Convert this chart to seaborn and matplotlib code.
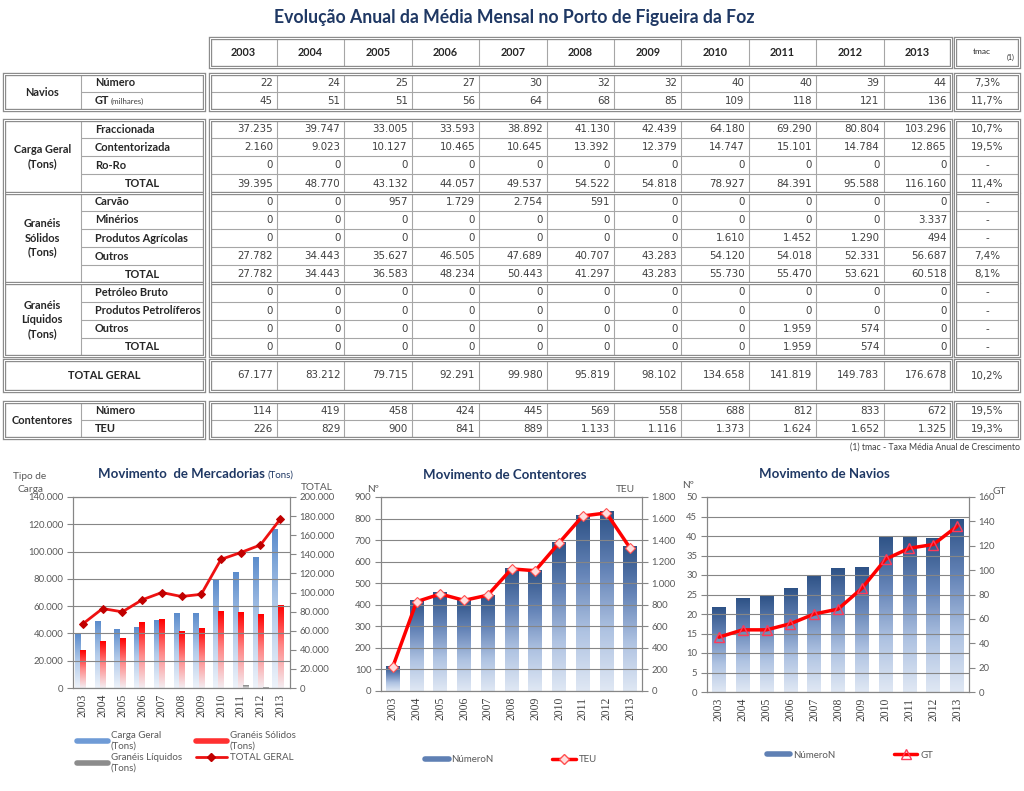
import numpy as np
import pandas as pd
import matplotlib
matplotlib.use("Agg")
import matplotlib.pyplot as plt
import seaborn as sns
from matplotlib.colors import LinearSegmentedColormap
from matplotlib.lines import Line2D
from matplotlib.patches import Rectangle
from matplotlib.ticker import FuncFormatter, MultipleLocator

# ---- data ----
years = ["2003", "2004", "2005", "2006", "2007", "2008", "2009", "2010", "2011", "2012", "2013"]

navios_numero = [22, 24, 25, 27, 30, 32, 32, 40, 40, 39, 44]
navios_gt = [45, 51, 51, 56, 64, 68, 85, 109, 118, 121, 136]
navios_tmac = ["7,3%", "11,7%"]
# bar heights in the ships chart (unrounded monthly means)
navios_numero_chart = [21.6, 24.0, 24.4, 26.6, 29.9, 31.6, 31.9, 39.9, 39.9, 39.3, 44.2]

cg_fraccionada = [37235, 39747, 33005, 33593, 38892, 41130, 42439, 64180, 69290, 80804, 103296]
cg_contentorizada = [2160, 9023, 10127, 10465, 10645, 13392, 12379, 14747, 15101, 14784, 12865]
cg_roro = [0, 0, 0, 0, 0, 0, 0, 0, 0, 0, 0]
cg_total = [39395, 48770, 43132, 44057, 49537, 54522, 54818, 78927, 84391, 95588, 116160]
cg_tmac = ["10,7%", "19,5%", "-", "11,4%"]

gs_carvao = [0, 0, 957, 1729, 2754, 591, 0, 0, 0, 0, 0]
gs_minerios = [0, 0, 0, 0, 0, 0, 0, 0, 0, 0, 3337]
gs_agricolas = [0, 0, 0, 0, 0, 0, 0, 1610, 1452, 1290, 494]
gs_outros = [27782, 34443, 35627, 46505, 47689, 40707, 43283, 54120, 54018, 52331, 56687]
gs_total = [27782, 34443, 36583, 48234, 50443, 41297, 43283, 55730, 55470, 53621, 60518]
gs_tmac = ["-", "-", "-", "7,4%", "8,1%"]

gl_bruto = [0, 0, 0, 0, 0, 0, 0, 0, 0, 0, 0]
gl_petroliferos = [0, 0, 0, 0, 0, 0, 0, 0, 0, 0, 0]
gl_outros = [0, 0, 0, 0, 0, 0, 0, 0, 1959, 574, 0]
gl_total = [0, 0, 0, 0, 0, 0, 0, 0, 1959, 574, 0]
gl_tmac = ["-", "-", "-", "-"]

total_geral = [67177, 83212, 79715, 92291, 99980, 95819, 98102, 134658, 141819, 149783, 176678]
total_geral_tmac = "10,2%"

cont_numero = [114, 419, 458, 424, 445, 569, 558, 688, 812, 833, 672]
cont_teu = [226, 829, 900, 841, 889, 1133, 1116, 1373, 1624, 1652, 1325]
cont_tmac = ["19,5%", "19,3%"]

# ---- style ----
sns.set_style("white")
plt.rcParams["font.family"] = ["Lato", "DejaVu Sans"]

NAVY = "#1f3864"
GRID = "#868686"
TICK = "#595959"
BORDER = "#8c8c8c"
INNER = "#a6a6a6"
LABEL_FS = 7.9


def fmt_pt(v):
    return f"{int(round(v)):,}".replace(",", ".")


fig = plt.figure(figsize=(10.24, 7.91), dpi=100)
bg = fig.add_axes([0, 0, 1, 1])
bg.set_xlim(0, 1024)
bg.set_ylim(791, 0)
bg.axis("off")

fig.text(514 / 1024, 1 - 17 / 791, "Evolução Anual da Média Mensal no Porto de Figueira da Foz",
         ha="center", va="center", fontsize=12.7, fontweight="bold", color=NAVY)

# ---- table ----
X_LAB0, X_LAB1, X_LAB2 = 3.5, 81, 204
X_NUM0, X_NUM1 = 209.5, 951
X_TM0, X_TM1 = 955, 1019
col_edges = np.linspace(X_NUM0, X_NUM1, len(years) + 1)


def double_box(x0, y0, x1, y1):
    bg.add_patch(Rectangle((x0, y0), x1 - x0, y1 - y0, fill=False, ec=BORDER, lw=2.4, zorder=3))
    bg.add_patch(Rectangle((x0, y0), x1 - x0, y1 - y0, fill=False, ec="white", lw=0.7, zorder=3))


def hline(x0, x1, y, double=False):
    if double:
        bg.plot([x0, x1], [y, y], color=BORDER, lw=2.4, zorder=2)
        bg.plot([x0, x1], [y, y], color="white", lw=0.7, zorder=2)
    else:
        bg.plot([x0, x1], [y, y], color=INNER, lw=0.8, zorder=1)


def vline(x, y0, y1):
    bg.plot([x, x], [y0, y1], color=INNER, lw=0.8, zorder=1)


def num_row(vals, tmac, yc):
    for k, v in enumerate(vals):
        bg.text(col_edges[k + 1] - 4, yc, fmt_pt(v), ha="right", va="center",
                fontsize=7.4, color="#404040", family="DejaVu Sans")
    bg.text((X_TM0 + X_TM1) / 2, yc, tmac, ha="center", va="center",
            fontsize=7.4, color="#404040", family="DejaVu Sans")


# header
double_box(X_NUM0, 38, X_NUM1, 67)
double_box(X_TM0, 38, X_TM1, 67)
for k, yr in enumerate(years):
    if k:
        vline(col_edges[k], 38, 67)
    bg.text((col_edges[k] + col_edges[k + 1]) / 2, 52.5, yr, ha="center", va="center",
            fontsize=7.8, fontweight="bold", color="#262626")
bg.text(982, 51, "tmac", ha="center", va="center", fontsize=6, color="#262626")
bg.text(1011, 57, "(1)", ha="center", va="center", fontsize=5, color="#262626")


def block(y0, y1, groups, split_label=True):
    """groups: list of (group label, rows); rows: (label, values, tmac, is_total)"""
    double_box(X_LAB0, y0, X_LAB2, y1)
    double_box(X_NUM0, y0, X_NUM1, y1)
    double_box(X_TM0, y0, X_TM1, y1)
    for k in range(1, len(years)):
        vline(col_edges[k], y0, y1)
    nrows = sum(len(g[1]) for g in groups)
    rh = (y1 - y0) / nrows
    if split_label:
        vline(X_LAB1, y0, y1)
    r = 0
    for gi, (glabel, rows) in enumerate(groups):
        gy0 = y0 + r * rh
        gy1 = gy0 + len(rows) * rh
        if gi:
            hline(X_LAB0, X_LAB2, gy0, double=True)
            hline(X_NUM0, X_NUM1, gy0, double=True)
            hline(X_TM0, X_TM1, gy0, double=True)
        if glabel:
            bg.text((X_LAB0 + X_LAB1) / 2, (gy0 + gy1) / 2, glabel, ha="center", va="center",
                    fontsize=LABEL_FS, fontweight="bold", color="#262626", linespacing=1.35)
        for ri, (label, vals, tmac, is_total) in enumerate(rows):
            ry0 = y0 + r * rh
            yc = ry0 + rh / 2
            if ri:
                hline(X_LAB1, X_LAB2, ry0)
                hline(X_NUM0, X_NUM1, ry0)
                hline(X_TM0, X_TM1, ry0)
            if not split_label:
                bg.text((X_LAB0 + X_LAB2) / 2, yc, label, ha="center", va="center",
                        fontsize=LABEL_FS, fontweight="bold", color="#262626")
            elif is_total:
                bg.text((X_LAB1 + X_LAB2) / 2, yc, label, ha="center", va="center",
                        fontsize=LABEL_FS, fontweight="bold", color="#262626")
            elif label == "GT":
                bg.text(95, yc, "GT", ha="left", va="center",
                        fontsize=LABEL_FS, fontweight="bold", color="#262626")
                bg.text(111, yc + 0.5, "(milhares)", ha="left", va="center",
                        fontsize=5.7, color="#404040")
            else:
                bg.text(95, yc, label, ha="left", va="center",
                        fontsize=LABEL_FS, fontweight="bold", color="#262626")
            num_row(vals, tmac, yc)
            r += 1


block(74, 110, [("Navios", [("Número", navios_numero, navios_tmac[0], False),
                            ("GT", navios_gt, navios_tmac[1], False)])])
block(120, 356, [
    ("Carga Geral\n(Tons)", [("Fraccionada", cg_fraccionada, cg_tmac[0], False),
                             ("Contentorizada", cg_contentorizada, cg_tmac[1], False),
                             ("Ro-Ro", cg_roro, cg_tmac[2], False),
                             ("TOTAL", cg_total, cg_tmac[3], True)]),
    ("Granéis\nSólidos\n(Tons)", [("Carvão", gs_carvao, gs_tmac[0], False),
                                  ("Minérios", gs_minerios, gs_tmac[1], False),
                                  ("Produtos Agrícolas", gs_agricolas, gs_tmac[2], False),
                                  ("Outros", gs_outros, gs_tmac[3], False),
                                  ("TOTAL", gs_total, gs_tmac[4], True)]),
    ("Granéis\nLíquidos\n(Tons)", [("Petróleo Bruto", gl_bruto, gl_tmac[0], False),
                                   ("Produtos Petrolíferos", gl_petroliferos, gl_tmac[1], False),
                                   ("Outros", gl_outros, gl_tmac[2], False),
                                   ("TOTAL", gl_total, gl_tmac[3], True)]),
])
block(360, 391, [("", [("TOTAL GERAL", total_geral, total_geral_tmac, True)])], split_label=False)
block(402, 438, [("Contentores", [("Número", cont_numero, cont_tmac[0], False),
                                  ("TEU", cont_teu, cont_tmac[1], False)])])

bg.text(1020, 447, "(1) tmac - Taxa Média Anual de Crescimento", ha="right", va="center",
        fontsize=6.3, color="#404040")

# ---- charts ----
blue_cm = LinearSegmentedColormap.from_list("b", ["#eef3fa", "#b3cbea", "#5b8ccc"])
red_cm = LinearSegmentedColormap.from_list("r", ["#f4eef2", "#ff8a8a", "#ff0000"])
gray_cm = LinearSegmentedColormap.from_list("g", ["#e4e4e4", "#7f7f7f"])
navy_cm = LinearSegmentedColormap.from_list("n", ["#e0e8f4", "#afc3e2", "#6685b8", "#2e5286"])


def px_axes(x0, y0, x1, y1):
    return fig.add_axes([x0 / 1024, 1 - y1 / 791, (x1 - x0) / 1024, (y1 - y0) / 791])


def paint_gradient(ax, bars, cmap):
    grad = np.linspace(0, 1, 256).reshape(-1, 1)
    for p in bars:
        h = p.get_height()
        if h > 0:
            x, w = p.get_x(), p.get_width()
            ax.imshow(grad, extent=(x, x + w, 0, h), origin="lower", aspect="auto",
                      cmap=cmap, zorder=1.5, interpolation="bilinear")
        p.set_facecolor("none")
        p.set_edgecolor("none")


def style_axes(ax, axr, ymax, ystep, rmax, rstep):
    ax.set_xlim(-0.5, len(years) - 0.5)
    ax.set_ylim(0, ymax)
    axr.set_ylim(0, rmax)
    ax.yaxis.set_major_locator(MultipleLocator(ystep))
    axr.yaxis.set_major_locator(MultipleLocator(rstep))
    for a in (ax, axr):
        a.yaxis.set_major_formatter(FuncFormatter(lambda v, p: fmt_pt(v)))
        a.set_xlabel("")
        a.set_ylabel("")
        for s in a.spines.values():
            s.set_color(GRID)
            s.set_linewidth(0.8)
            s.set_visible(True)
        a.tick_params(axis="y", length=4, width=0.8, color=GRID, labelsize=6.8,
                      labelcolor=TICK, pad=3)
    # grid lines run across the bars, as in the original
    ax.set_axisbelow(False)
    ax.yaxis.grid(True, color=GRID, lw=0.8)
    ax.tick_params(axis="x", length=0, labelsize=8.4, labelcolor="#404040", pad=4,
                   labelrotation=90)
    for lbl in ax.get_xticklabels():
        lbl.set_fontfamily("Liberation Serif")


# chart 1: mercadorias
ax1 = px_axes(73, 497, 290, 688)
tipos = ["Carga Geral (Tons)", "Granéis Sólidos (Tons)", "Granéis Líquidos (Tons)"]
merc = pd.DataFrame({
    "ano": years * 3,
    "tipo": [tipos[0]] * 11 + [tipos[1]] * 11 + [tipos[2]] * 11,
    "tons": cg_total + gs_total + gl_total,
})
sns.barplot(data=merc, x="ano", y="tons", hue="tipo", hue_order=tipos, ax=ax1, width=0.8,
            palette=["#5b8ccc", "#ff0000", "#7f7f7f"], saturation=1, legend=False)
for cont, cm in zip(ax1.containers, [blue_cm, red_cm, gray_cm]):
    paint_gradient(ax1, cont, cm)
ax1r = ax1.twinx()
sns.lineplot(x=np.arange(len(years)), y=total_geral, ax=ax1r, color="#ee1111", lw=2,
             marker="D", ms=4, mfc="#c00000", mec="#c00000")
style_axes(ax1, ax1r, 140000, 20000, 200000, 20000)

fig.text(265 / 1024, 1 - 474 / 791, "Movimento  de Mercadorias", ha="right", va="center",
         fontsize=9.5, fontweight="bold", color=NAVY)
fig.text(267 / 1024, 1 - 475 / 791, "(Tons)", ha="left", va="center", fontsize=7, color=NAVY)
fig.text(30 / 1024, 1 - 483 / 791, "Tipo de\nCarga", ha="center", va="center",
         fontsize=7.3, color=TICK, linespacing=1.5)
fig.text(317 / 1024, 1 - 488 / 791, "TOTAL", ha="center", va="center", fontsize=7.3, color=TICK)

h1 = [Line2D([], [], color="#6f9bd6", lw=4), Line2D([], [], color="#8c8c8c", lw=4),
      Line2D([], [], color="#ff3030", lw=4),
      Line2D([], [], color="#ee1111", lw=2, marker="D", ms=4, mfc="#c00000", mec="#c00000")]
l1 = ["Carga Geral\n(Tons)", "Granéis Líquidos\n(Tons)", "Granéis Sólidos\n(Tons)", "TOTAL GERAL"]
fig.legend(h1, l1, ncol=2, loc="upper left", bbox_to_anchor=(68 / 1024, 1 - 722 / 791),
           frameon=False, fontsize=7, labelcolor=TICK, handlelength=3.2, handletextpad=0.3,
           columnspacing=1.4, labelspacing=0.3)

# chart 2: contentores
ax2 = px_axes(381, 497, 642, 691)
sns.barplot(x=years, y=cont_numero, ax=ax2, width=0.58, color="#5f80b4", saturation=1)
paint_gradient(ax2, ax2.containers[0], navy_cm)
ax2r = ax2.twinx()
sns.lineplot(x=np.arange(len(years)), y=cont_teu, ax=ax2r, color="#ff0000", lw=2.5,
             marker="D", ms=5, mfc="#ffdede", mec="#ff5050", mew=0.8)
style_axes(ax2, ax2r, 900, 100, 1800, 200)

fig.text(505 / 1024, 1 - 475 / 791, "Movimento de Contentores", ha="center", va="center",
         fontsize=9.5, fontweight="bold", color=NAVY)
fig.text(373 / 1024, 1 - 490 / 791, "Nº", ha="center", va="center", fontsize=7.3, color=TICK)
fig.text(625 / 1024, 1 - 490 / 791, "TEU", ha="center", va="center", fontsize=7.3, color=TICK)
h2 = [Line2D([], [], color="#5f80b4", lw=4),
      Line2D([], [], color="#ff0000", lw=2.5, marker="D", ms=5, mfc="#ffdede", mec="#ff5050")]
fig.legend(h2, ["NúmeroN", "TEU"], ncol=2, loc="center", bbox_to_anchor=(511 / 1024, 1 - 760 / 791),
           frameon=False, fontsize=7, labelcolor=TICK, handlelength=2.4, handletextpad=0.3,
           columnspacing=6)

# chart 3: navios
ax3 = px_axes(707, 497, 969, 692)
sns.barplot(x=years, y=navios_numero_chart, ax=ax3, width=0.57, color="#5f80b4", saturation=1)
paint_gradient(ax3, ax3.containers[0], navy_cm)
ax3r = ax3.twinx()
sns.lineplot(x=np.arange(len(years)), y=navios_gt, ax=ax3r, color="#ff0000", lw=2.5,
             marker="^", ms=7, mfc="none", mec="#ff3a5a", mew=1)
style_axes(ax3, ax3r, 50, 5, 160, 20)

fig.text(824 / 1024, 1 - 474 / 791, "Movimento de Navios", ha="center", va="center",
         fontsize=9.5, fontweight="bold", color=NAVY)
fig.text(688 / 1024, 1 - 485 / 791, "Nº", ha="center", va="center", fontsize=7.3, color=TICK)
fig.text(999 / 1024, 1 - 492 / 791, "GT", ha="center", va="center", fontsize=7.3, color=TICK)
h3 = [Line2D([], [], color="#5f80b4", lw=4),
      Line2D([], [], color="#ff0000", lw=2.5, marker="^", ms=7, mfc="none", mec="#ff3a5a")]
fig.legend(h3, ["NúmeroN", "GT"], ncol=2, loc="center", bbox_to_anchor=(850 / 1024, 1 - 755 / 791),
           frameon=False, fontsize=7, labelcolor=TICK, handlelength=2.4, handletextpad=0.3,
           columnspacing=6)

fig.savefig("out.png", dpi=100, facecolor="white")
